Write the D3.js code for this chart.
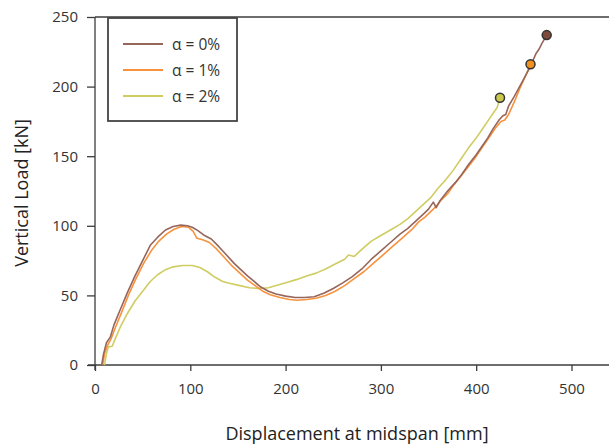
<!DOCTYPE html>
<html>
<head>
<meta charset="utf-8">
<script src="https://cdn.jsdelivr.net/npm/d3@7"></script>
<style>
  body { margin: 0; background: #fff; }
  svg { display: block; font-family: "Open Sans", sans-serif; }
</style>
</head>
<body>
<div id="chart"></div>
<script>
// series: [displacement mm, load kN]
var alpha0 = [[7,0],[9,8],[12,16],[16,20],[20,29],[26,39],[34,52],[42,64],[50,75],[58,86],[66,92],[74,97],[82,99.5],[90,100.5],[97,100],[102,99],[108,96.5],[115,93],[122,90.5],[130,85],[138,79],[146,73],[153,68.5],[160,64],[167,60],[174,56],[182,53],[190,51],[200,49.5],[210,48.5],[220,48.5],[230,49],[240,51.5],[250,55],[260,59],[270,63.5],[280,69],[290,76],[300,82],[310,88],[320,94],[328,98],[336,103],[344,108],[350,112],[355,117],[358,113],[362,118],[370,125],[378,131],[385,137],[392,144],[400,151],[406,157],[412,163],[418,170],[424,176],[428,179],[431,180],[434,186],[440,193],[448,203],[455,212],[459,218],[463,224],[466,227],[469,231],[474,237]];
var alpha1 = [[8,0],[10,8],[13,14],[17,19],[22,28],[28,38],[35,50],[43,62],[51,73],[59,82],[67,89],[75,94],[83,97.5],[91,99.5],[98,99],[103,96],[107,91],[113,90],[120,88],[128,83],[136,77],[144,71],[152,66],[160,61],[168,57],[176,53],[184,50.5],[194,48.5],[204,47],[212,46.5],[222,47],[232,48],[242,50],[252,53],[262,57],[272,62],[282,67],[292,73],[302,79],[312,85],[322,91],[332,97],[340,103],[346,106],[352,110],[358,114],[364,119],[370,123],[376,129],[382,134],[390,141],[398,148],[406,156],[414,164],[420,170],[426,175],[430,176],[434,180],[440,189],[446,199],[452,208],[457,216]];
var alpha2 = [[10,0],[12,8],[14,13],[18,13.5],[22,20],[27,28],[34,37],[42,46],[50,53],[58,60],[66,65],[74,68.5],[82,70.5],[92,71.5],[102,71.5],[110,70],[118,67],[126,63],[134,60],[142,58.5],[152,57],[162,55.5],[172,55],[182,55.5],[192,57.5],[202,59.5],[212,61.5],[222,64],[232,66],[242,69],[252,72.5],[262,76],[266,79],[272,78],[280,83],[290,89],[300,93],[310,97],[320,101],[328,105],[336,110],[344,115],[352,120],[360,127],[368,133],[376,140],[384,148],[392,156],[400,163],[406,169],[412,175],[418,181],[422,185],[425,192]];

var labels     = ["\u03b1 = 0%", "\u03b1 = 1%", "\u03b1 = 2%"];
var lineColors = ["#96665b", "#f7923e", "#cfcd62"];
var dotColors  = ["#7d4a3c", "#f39020", "#c9c84c"];
var xTicks = [0, 100, 200, 300, 400, 500];
var yTicks = [0, 50, 100, 150, 200, 250];

var W = 609, H = 445;
var svg = d3.select("#chart").append("svg").attr("width", W).attr("height", H);

var x = d3.scaleLinear().domain([0, 540]).range([95, 609.6]);
var y = d3.scaleLinear().domain([0, 250]).range([365, 17]);

var axisColor = "#3c3c3c";

// axes
var gx = svg.append("g").attr("transform", "translate(0," + y(0) + ")")
  .call(d3.axisBottom(x).tickValues(xTicks).tickSize(6).tickSizeOuter(0).tickPadding(12));
var gy = svg.append("g").attr("transform", "translate(" + x(0) + ",0)")
  .call(d3.axisLeft(y).tickValues(yTicks).tickSize(8).tickSizeOuter(0).tickPadding(9));

[gx, gy].forEach(function(g){
  g.select(".domain").remove();
  g.selectAll(".tick line").attr("stroke", axisColor).attr("stroke-width", 1.3);
  g.selectAll(".tick text").attr("fill", "#333").style("font-size", "15px").style("font-family", "'Open Sans', sans-serif");
});

// axis lines + top frame
svg.append("line").attr("x1", x(0)).attr("x2", x(0)).attr("y1", y(250)).attr("y2", y(0) + 5)
  .attr("stroke", axisColor).attr("stroke-width", 1.3);
svg.append("line").attr("x1", x(0) - 7).attr("x2", W).attr("y1", y(0)).attr("y2", y(0))
  .attr("stroke", axisColor).attr("stroke-width", 1.3);
svg.append("line").attr("x1", x(0)).attr("x2", W).attr("y1", y(250)).attr("y2", y(250))
  .attr("stroke", axisColor).attr("stroke-width", 1.3);

// titles
svg.append("text").attr("x", 357).attr("y", 440).attr("text-anchor", "middle")
  .attr("fill", "#222").style("font-size", "18px").text("Displacement at midspan [mm]");
svg.append("text").attr("transform", "translate(28,193) rotate(-90)").attr("text-anchor", "middle")
  .attr("fill", "#222").style("font-size", "18px").text("Vertical Load [kN]");

// curves
var line = d3.line().x(function(d){ return x(d[0]); }).y(function(d){ return y(d[1]); });
var series = [alpha0, alpha1, alpha2];

// draw 2% first, then 1%, then 0% on top
[2, 1, 0].forEach(function(i){
  svg.append("path").datum(series[i])
    .attr("d", line)
    .attr("fill", "none")
    .attr("stroke", lineColors[i])
    .attr("stroke-width", 1.6)
    .attr("stroke-linejoin", "round");
});

// end markers
series.forEach(function(s, i){
  var last = s[s.length - 1];
  svg.append("circle")
    .attr("cx", x(last[0])).attr("cy", y(last[1])).attr("r", 4.5)
    .attr("fill", dotColors[i]).attr("stroke", "#333").attr("stroke-width", 1.5);
});

// legend
var lg = svg.append("g");
lg.append("rect").attr("x", 108).attr("y", 18).attr("width", 129).attr("height", 103)
  .attr("fill", "#fff").attr("stroke", "#444").attr("stroke-width", 1.8);
labels.forEach(function(t, i){
  var ly = 44 + i * 26;
  lg.append("line").attr("x1", 123).attr("x2", 163).attr("y1", ly).attr("y2", ly)
    .attr("stroke", lineColors[i]).attr("stroke-width", 1.8);
  lg.append("text").attr("x", 172).attr("y", ly + 5.5).attr("fill", "#333")
    .style("font-size", "15.5px").text(t);
});
</script>
</body>
</html>
